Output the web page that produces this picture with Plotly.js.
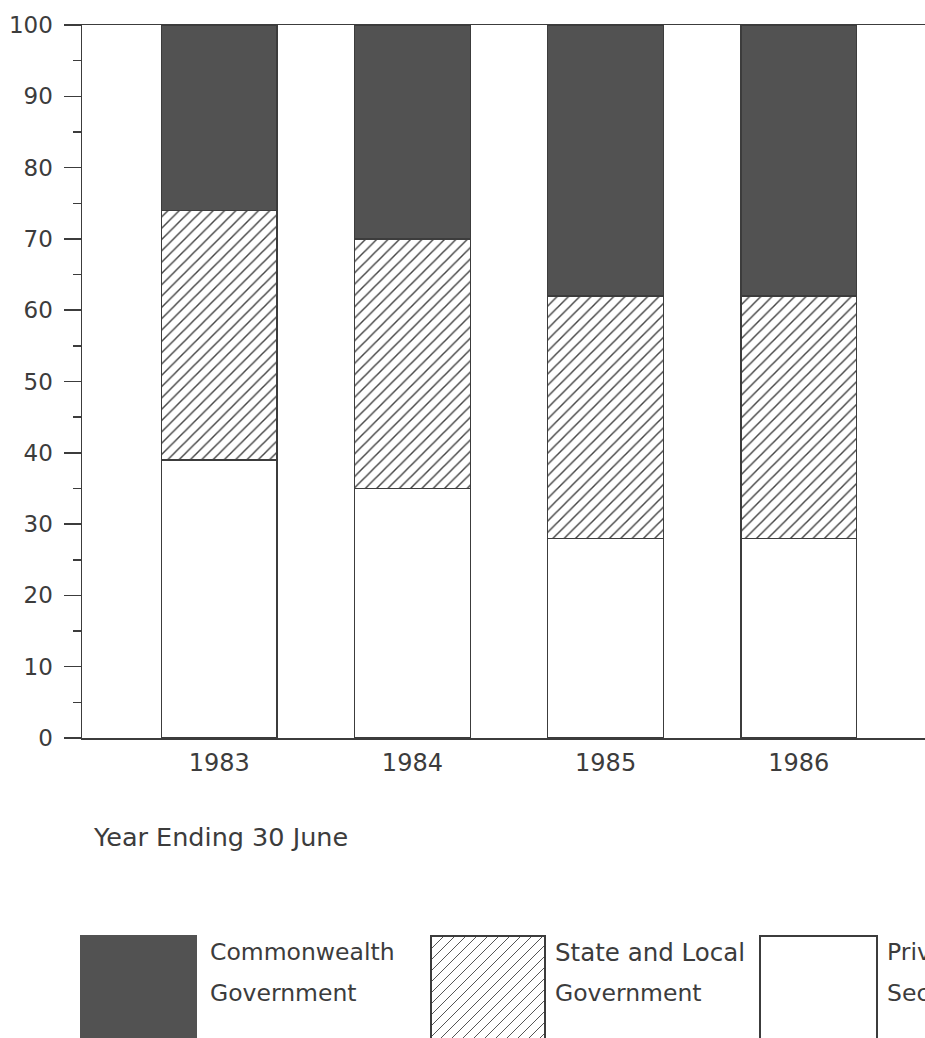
<!DOCTYPE html>
<html>
<head>
<meta charset="utf-8">
<script src="https://cdn.plot.ly/plotly-3.0.1.min.js"></script>
<style>
html,body{margin:0;padding:0;overflow:hidden;background:#fff;}
#chart{width:950px;height:1038px;}
</style>
</head>
<body>
<div id="chart"></div>
<script>
// ---- data ----
var years = ['1983', '1984', '1985', '1986'];
var privateSector = [39, 35, 28, 28];
var stateLocal = [35, 35, 34, 34];
var commonwealth = [26, 30, 38, 38];
var yTickVals = [0, 10, 20, 30, 40, 50, 60, 70, 80, 90, 100];
var legendLine1 = ['Commonwealth', 'State and Local', 'Private'];
var legendLine2 = ['Government', 'Government', 'Sector'];
var xTitle = 'Year Ending 30 June';

// ---- layout geometry (pixels) ----
var W = 950, H = 1038;
var M = {l: 82, r: 14, t: 25, b: 300};
var plotW = W - M.l - M.r, plotH = H - M.t - M.b;
function px2x(p) { return (p - M.l) / plotW; }
function py2y(p) { return (H - M.b - p) / plotH; }

var ink = '#3c3c3c';
var dark = '#525252';
var font = 'DejaVu Sans, Verdana, sans-serif';

var lineStyle = {color: ink, width: 1.3};
var traces = [
  {type: 'bar', name: 'Private Sector', x: years, y: privateSector,
   marker: {color: '#ffffff', line: lineStyle}, width: 0.6, hoverinfo: 'skip'},
  {type: 'bar', name: 'State and Local Government', x: years, y: stateLocal,
   marker: {color: '#ffffff', line: lineStyle,
            pattern: {shape: '/', size: 8, solidity: 0.18, fgcolor: '#444', bgcolor: '#ffffff'}},
   width: 0.6, hoverinfo: 'skip'},
  {type: 'bar', name: 'Commonwealth Government', x: years, y: commonwealth,
   marker: {color: dark, line: lineStyle}, width: 0.6, hoverinfo: 'skip'}
];

// legend swatches (styling, pixel coords)
var shapes = [];
var annotations = [];
function rectShape(x0, y0, x1, y1, fill, lineW) {
  return {type: 'rect', xref: 'paper', yref: 'paper',
          x0: px2x(x0), x1: px2x(x1), y0: py2y(y0), y1: py2y(y1),
          fillcolor: fill, line: {color: ink, width: lineW}, layer: 'above'};
}
var swBottom = 1060;
shapes.push(rectShape(80, 935, 197, swBottom, dark, 0));
shapes.push(rectShape(431, 936, 545, swBottom, '#ffffff', 2));
shapes.push(rectShape(760, 936, 877, swBottom, '#ffffff', 2));

// hatch lines for the middle swatch
(function () {
  var x0 = 432, x1 = 544, y0 = 937, y1 = 1045, step = 11;
  var d = '';
  for (var c = x0 + y0 + step; c < x1 + y1; c += step) {
    var pts = [];
    var cand = [[x0, c - x0], [x1, c - x1], [c - y0, y0], [c - y1, y1]];
    cand.forEach(function (p) {
      if (p[0] >= x0 - 0.01 && p[0] <= x1 + 0.01 && p[1] >= y0 - 0.01 && p[1] <= y1 + 0.01) pts.push(p);
    });
    if (pts.length >= 2) {
      pts.sort(function (a, b) { return a[0] - b[0]; });
      var a = pts[0], b = pts[pts.length - 1];
      d += 'M' + px2x(a[0]) + ',' + py2y(a[1]) + 'L' + px2x(b[0]) + ',' + py2y(b[1]);
    }
  }
  shapes.push({type: 'path', xref: 'paper', yref: 'paper', path: d,
               line: {color: '#555', width: 1}, layer: 'above'});
})();

var legendX = [208, 553, 885];
var fs = 23.5;
legendLine1.forEach(function (lab, i) {
  annotations.push({xref: 'paper', yref: 'paper', x: px2x(legendX[i]), y: py2y(952),
    xanchor: 'left', yanchor: 'middle', align: 'left', showarrow: false,
    text: lab, font: {family: font, size: i === 1 ? 24.5 : fs, color: ink}});
  annotations.push({xref: 'paper', yref: 'paper', x: px2x(legendX[i]), y: py2y(993),
    xanchor: 'left', yanchor: 'middle', align: 'left', showarrow: false,
    text: legendLine2[i], font: {family: font, size: fs, color: ink}});
});
annotations.push({xref: 'paper', yref: 'paper', x: px2x(91), y: py2y(837),
  xanchor: 'left', yanchor: 'middle', align: 'left', showarrow: false,
  text: xTitle, font: {family: font, size: 25.5, color: ink}});

var layout = {
  width: W, height: H,
  margin: M,
  barmode: 'stack',
  showlegend: false,
  paper_bgcolor: '#ffffff', plot_bgcolor: '#ffffff',
  font: {family: font, color: ink, size: fs},
  xaxis: {type: 'category', range: [-0.71, 3.71], showgrid: false, zeroline: false,
          showline: true, linecolor: ink, linewidth: 1.5, mirror: true,
          ticks: '', tickfont: {family: font, size: 24, color: ink}, ticklabelstandoff: 3,
          fixedrange: true},
  yaxis: {range: [0, 100], tickvals: yTickVals, showgrid: false, zeroline: false,
          showline: true, linecolor: ink, linewidth: 1.5,
          ticks: 'outside', ticklen: 17, tickwidth: 1.5, tickcolor: ink,
          minor: {dtick: 5, ticks: 'outside', ticklen: 8, tickwidth: 1.5, tickcolor: ink},
          ticklabelstandoff: 6,
          tickfont: {family: font, size: 23, color: ink}, fixedrange: true},
  shapes: shapes,
  annotations: annotations
};

Plotly.newPlot('chart', traces, layout, {displayModeBar: false, staticPlot: true});
</script>
</body>
</html>
